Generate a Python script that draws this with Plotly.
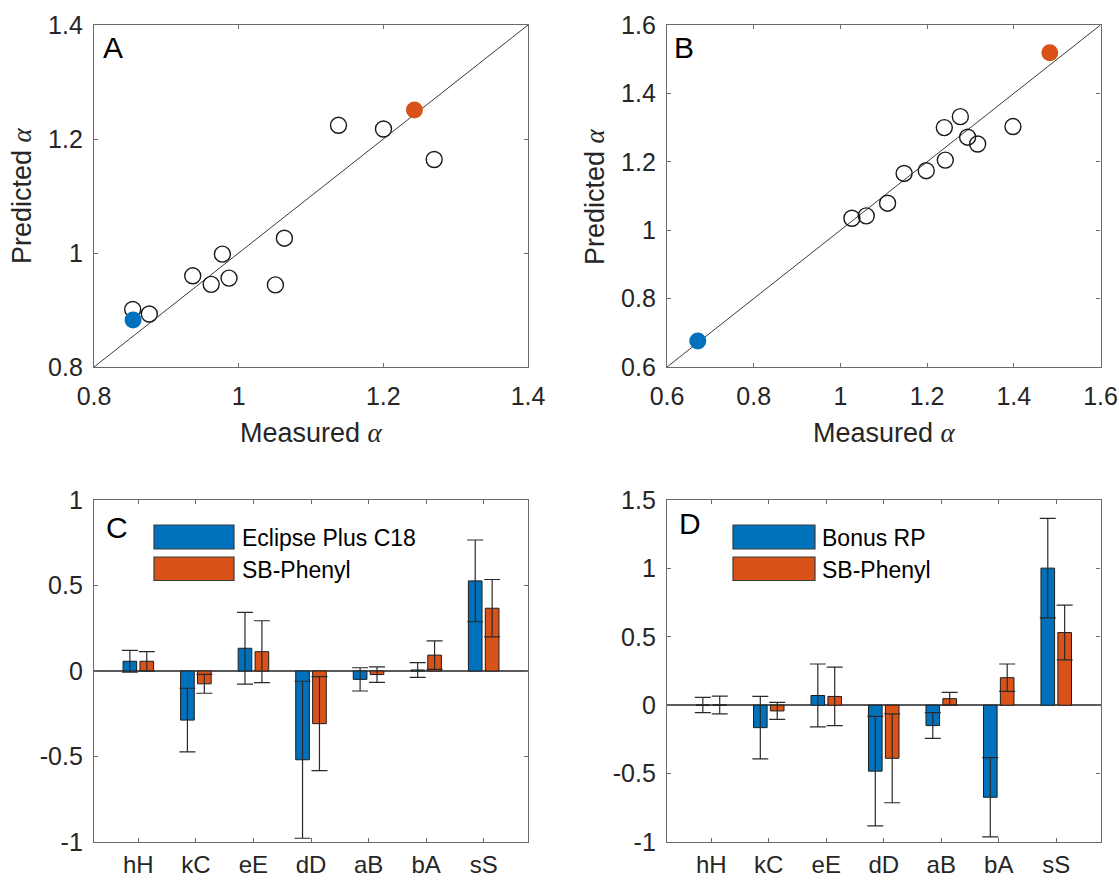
import plotly.graph_objects as go

W, H = 1119, 882

# ---------------- data ----------------
# Panel A
a_meas = [0.8535, 0.8765, 0.9365, 0.962, 0.9775, 0.9867, 1.0508, 1.0632, 1.138, 1.2002, 1.2703]
a_pred = [0.901, 0.893, 0.960, 0.945, 0.998, 0.956, 0.944, 1.026, 1.224, 1.2175, 1.164]
a_blue = [0.854, 0.8825]
a_orange = [1.243, 1.251]

# Panel B
b_meas = [1.0265, 1.0596, 1.1088, 1.147, 1.198, 1.242, 1.2397, 1.2767, 1.2935, 1.3166, 1.398]
b_pred = [1.035, 1.042, 1.079, 1.166, 1.174, 1.205, 1.300, 1.332, 1.272, 1.252, 1.303]
b_blue = [0.671, 0.676]
b_orange = [1.483, 1.519]

# Bar panels
categories = ["hH", "kC", "eE", "dD", "aB", "bA", "sS"]
c_eclipse = [0.057, -0.287, 0.133, -0.519, -0.049, 0.006, 0.527]
c_eclipse_err = [0.064, 0.186, 0.210, 0.459, 0.068, 0.043, 0.239]
c_phenyl = [0.057, -0.075, 0.113, -0.308, -0.021, 0.093, 0.367]
c_phenyl_err = [0.056, 0.055, 0.181, 0.275, 0.045, 0.083, 0.168]

d_bonus = [0.001, -0.164, 0.071, -0.482, -0.149, -0.673, 1.002]
d_bonus_err = [0.056, 0.229, 0.230, 0.400, 0.094, 0.290, 0.363]
d_phenyl = [0.002, -0.042, 0.064, -0.388, 0.048, 0.201, 0.531]
d_phenyl_err = [0.065, 0.062, 0.214, 0.325, 0.046, 0.100, 0.200]

a_ticks = [0.8, 1.0, 1.2, 1.4]
a_ticktext = ["0.8", "1", "1.2", "1.4"]
b_ticks = [0.6, 0.8, 1.0, 1.2, 1.4, 1.6]
b_ticktext = ["0.6", "0.8", "1", "1.2", "1.4", "1.6"]
c_ticks = [-1, -0.5, 0, 0.5, 1]
c_ticktext = ["-1", "-0.5", "0", "0.5", "1"]
d_ticks = [-1, -0.5, 0, 0.5, 1, 1.5]
d_ticktext = ["-1", "-0.5", "0", "0.5", "1", "1.5"]

legend_c = ["Eclipse Plus C18", "SB-Phenyl"]
legend_d = ["Bonus RP", "SB-Phenyl"]

# ---------------- style ----------------
BLUE = "#0072BD"
ORANGE = "#D95319"
TXT = "#262626"
FRAME = "#6a6a6a"
FONT = "Liberation Sans, Arial, sans-serif"


def px(x):
    return x / W


def py(y):
    return 1 - y / H


dom_left = [px(94), px(528)]
dom_right = [px(667), px(1100.5)]
dom_top = [py(367), py(25)]
dom_bot = [py(842), py(500)]

fig = go.Figure()

# ---------- Panel A ----------
fig.add_trace(go.Scatter(x=[a_ticks[0], a_ticks[-1]], y=[a_ticks[0], a_ticks[-1]], mode="lines",
                         line=dict(color="#3a3a3a", width=1), xaxis="x", yaxis="y", showlegend=False))
fig.add_trace(go.Scatter(x=a_meas, y=a_pred, mode="markers",
                         marker=dict(size=16, color="rgba(255,255,255,0)", line=dict(color="#1a1a1a", width=1.4)),
                         xaxis="x", yaxis="y", showlegend=False))
fig.add_trace(go.Scatter(x=[a_blue[0]], y=[a_blue[1]], mode="markers",
                         marker=dict(size=17, color=BLUE, line=dict(width=0)), xaxis="x", yaxis="y", showlegend=False))
fig.add_trace(go.Scatter(x=[a_orange[0]], y=[a_orange[1]], mode="markers",
                         marker=dict(size=17, color=ORANGE, line=dict(width=0)), xaxis="x", yaxis="y", showlegend=False))

# ---------- Panel B ----------
fig.add_trace(go.Scatter(x=[b_ticks[0], b_ticks[-1]], y=[b_ticks[0], b_ticks[-1]], mode="lines",
                         line=dict(color="#3a3a3a", width=1), xaxis="x2", yaxis="y2", showlegend=False))
fig.add_trace(go.Scatter(x=b_meas, y=b_pred, mode="markers",
                         marker=dict(size=16, color="rgba(255,255,255,0)", line=dict(color="#1a1a1a", width=1.4)),
                         xaxis="x2", yaxis="y2", showlegend=False))
fig.add_trace(go.Scatter(x=[b_blue[0]], y=[b_blue[1]], mode="markers",
                         marker=dict(size=17, color=BLUE, line=dict(width=0)), xaxis="x2", yaxis="y2", showlegend=False))
fig.add_trace(go.Scatter(x=[b_orange[0]], y=[b_orange[1]], mode="markers",
                         marker=dict(size=17, color=ORANGE, line=dict(width=0)), xaxis="x2", yaxis="y2", showlegend=False))

# ---------- Bars ----------
xpos = list(range(1, len(categories) + 1))
BW = 0.237
OFF = 0.147


def bar(vals, errs, color, xa, ya, side, name):
    return go.Bar(x=xpos, y=vals, width=BW, offset=(-OFF - BW / 2) if side < 0 else (OFF - BW / 2),
                  marker=dict(color=color, line=dict(color="#1e1e1e", width=1)),
                  error_y=dict(type="data", array=errs, visible=True, color="#2a2a2a", thickness=1.2, width=8),
                  xaxis=xa, yaxis=ya, name=name, showlegend=False)


fig.add_trace(bar(c_eclipse, c_eclipse_err, BLUE, "x3", "y3", -1, legend_c[0]))
fig.add_trace(bar(c_phenyl, c_phenyl_err, ORANGE, "x3", "y3", 1, legend_c[1]))
fig.add_trace(bar(d_bonus, d_bonus_err, BLUE, "x4", "y4", -1, legend_d[0]))
fig.add_trace(bar(d_phenyl, d_phenyl_err, ORANGE, "x4", "y4", 1, legend_d[1]))

axis_common = dict(showline=True, linecolor=FRAME, linewidth=1.3, mirror="ticks", ticks="inside",
                   ticklen=4, tickcolor=FRAME, tickwidth=1, showgrid=False, zeroline=False,
                   tickfont=dict(family=FONT, size=25, color=TXT), automargin=False)
xax = dict(axis_common, ticklabelstandoff=7)
xax_bot = dict(axis_common, ticklabelstandoff=1)
xax_bot["tickfont"] = dict(family=FONT, size=24, color=TXT)
yax = dict(axis_common, ticklabelstandoff=5)

fig.update_layout(
    width=W, height=H, margin=dict(l=0, r=0, t=0, b=0),
    paper_bgcolor="white", plot_bgcolor="white", showlegend=False, barmode="overlay",
    xaxis=dict(domain=dom_left, anchor="y", range=[0.8, 1.4], tickvals=a_ticks, ticktext=a_ticktext, **xax),
    yaxis=dict(domain=dom_top, anchor="x", range=[0.8, 1.4], tickvals=a_ticks, ticktext=a_ticktext, **yax),
    xaxis2=dict(domain=dom_right, anchor="y2", range=[0.6, 1.6], tickvals=b_ticks, ticktext=b_ticktext, **xax),
    yaxis2=dict(domain=dom_top, anchor="x2", range=[0.6, 1.6], tickvals=b_ticks, ticktext=b_ticktext, **yax),
    xaxis3=dict(domain=dom_left, anchor="y3", range=[0.23, 7.77], tickvals=xpos, ticktext=categories, **xax_bot),
    yaxis3=dict(domain=dom_bot, anchor="x3", range=[-1, 1], tickvals=c_ticks, ticktext=c_ticktext, **yax),
    xaxis4=dict(domain=dom_right, anchor="y4", range=[0.23, 7.77], tickvals=xpos, ticktext=categories, **xax_bot),
    yaxis4=dict(domain=dom_bot, anchor="x4", range=[-1, 1.5], tickvals=d_ticks, ticktext=d_ticktext, **yax),
)
for ax in ["yaxis3", "yaxis4"]:
    fig.layout[ax].update(zeroline=True, zerolinecolor="#5a5a5a", zerolinewidth=1.5)

ALPHA = "<span style=\"font-family:'Liberation Serif', serif; font-style:italic\">α</span>"
annots = []
# axis titles
for cx in [311, 884]:
    annots.append(dict(x=px(cx), y=py(433), xref="paper", yref="paper", text="Measured " + ALPHA,
                       showarrow=False, font=dict(family=FONT, size=27, color=TXT), xanchor="center", yanchor="middle"))
for cx in [22, 595]:
    annots.append(dict(x=px(cx), y=py(196), xref="paper", yref="paper", text="Predicted " + ALPHA,
                       showarrow=False, textangle=-90, font=dict(family=FONT, size=27, color=TXT),
                       xanchor="center", yanchor="middle"))
# panel letters
for lab, (lx, ly) in zip(["A", "B", "C", "D"], [(113, 47.5), (683.5, 48), (117, 527), (690, 523)]):
    annots.append(dict(x=px(lx), y=py(ly), xref="paper", yref="paper", text=lab, showarrow=False,
                       font=dict(family=FONT, size=30, color="black"), xanchor="center", yanchor="middle"))

shapes = []
# custom legends (large swatches like MATLAB)
for names, (sx0, sx1, tx) in [(legend_c, (154, 234, 240)), (legend_d, (733, 815, 820))]:
    for i, (nm, col) in enumerate(zip(names, [BLUE, ORANGE])):
        y0, y1 = [(525, 549), (557, 580.5)][i]
        shapes.append(dict(type="rect", xref="paper", yref="paper", x0=px(sx0), x1=px(sx1), y0=py(y1), y1=py(y0),
                           fillcolor=col, line=dict(color="#3a3a3a", width=1.2)))
        annots.append(dict(x=px(tx), y=py((y0 + y1) / 2 + 1), xref="paper", yref="paper", text=nm, showarrow=False,
                           font=dict(family=FONT, size=23, color="black"), xanchor="left", yanchor="middle"))

fig.update_layout(annotations=annots, shapes=shapes)
fig.write_html("out.html")
